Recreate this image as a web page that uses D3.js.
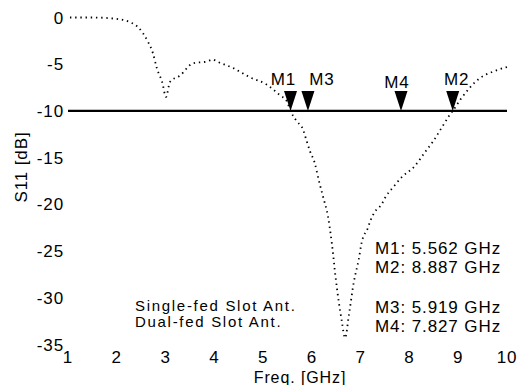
<!DOCTYPE html>
<html>
<head>
<meta charset="utf-8">
<script src="https://d3js.org/d3.v7.min.js"></script>
<style>
  body { margin: 0; background: #fff; }
  svg text { font-family: "Liberation Sans", Arial, sans-serif; font-size: 17px; letter-spacing: 0.9px; fill: #000; }
</style>
</head>
<body>
<script>
// S11 curve (GHz, dB)
var freq = [1.04, 1.5, 2.07, 2.27, 2.43, 2.54, 2.64, 2.74, 2.82, 2.93, 3.01,
            3.09, 3.3, 3.56, 3.85, 3.97, 4.05, 4.38, 4.73, 5.08, 5.34, 5.49, 5.562,
            5.69, 5.82, 5.88, 5.96, 6.06, 6.14, 6.23, 6.33, 6.41, 6.49, 6.61, 6.68,
            6.76, 6.86, 6.96, 7.02, 7.15, 7.21, 7.29, 7.43, 7.5, 7.66, 7.86, 8.11,
            8.32, 8.48, 8.66, 8.83, 8.887, 9.07, 9.24, 9.44, 9.71, 10.0];
var s11  = [0, 0, -0.2, -0.5, -1.0, -1.7, -2.6, -3.8, -5.4, -6.9, -8.5,
            -6.9, -6.2, -4.9, -4.7, -4.5, -4.7, -5.4, -6.4, -7.2, -8.3, -9.0, -10.0,
            -11.1, -12.0, -13.0, -14.3, -15.6, -17.4, -19.2, -21.3, -24.2, -28.0, -32.4, -34.3,
            -31.8, -28.3, -25.9, -24.1, -22.5, -21.6, -20.8, -20.0, -19.3, -18.2, -17.0, -15.9,
            -14.4, -13.3, -11.8, -10.4, -10.0, -8.6, -7.5, -6.5, -5.8, -5.3];

var markerNames = ["M1", "M3", "M4", "M2"];
var markerFreq  = [5.562, 5.919, 7.827, 8.887];
var noteLines   = ["M1: 5.562 GHz", "M2: 8.887 GHz", "M3: 5.919 GHz", "M4: 7.827 GHz"];
var legendNames = ["Single-fed Slot Ant.", "Dual-fed Slot Ant."];
var xTicks = [1, 2, 3, 4, 5, 6, 7, 8, 9, 10];
var yTicks = [0, -5, -10, -15, -20, -25, -30, -35];
var refLevel = -10;

var W = 528, H = 385;
var svg = d3.select("body").append("svg").attr("width", W).attr("height", H);

var x = d3.scaleLinear().domain([1, 10]).range([68, 507]);
var y = d3.scaleLinear().domain([0, -35]).range([17.5, 344.5]);

// tick labels (no axis lines in the original)
svg.selectAll(".yt").data(yTicks).enter().append("text")
  .attr("x", 64).attr("y", function(d){ return y(d) + 6; })
  .attr("text-anchor", "end")
  .text(function(d){ return d; });

svg.selectAll(".xt").data(xTicks).enter().append("text")
  .attr("x", function(d){ return x(d); }).attr("y", 363)
  .attr("text-anchor", "middle")
  .text(function(d){ return d; });

svg.append("text").attr("x", 300).attr("y", 383)
  .attr("text-anchor", "middle").style("font-size", "16px")
  .text("Freq. [GHz]");

svg.append("text")
  .attr("transform", "translate(27,167) rotate(-90)")
  .attr("text-anchor", "middle").text("S11 [dB]");

// -10 dB reference line
svg.append("line")
  .attr("x1", x(1)).attr("x2", x(10))
  .attr("y1", y(refLevel)).attr("y2", y(refLevel))
  .attr("stroke", "#000").attr("stroke-width", 2.2);

// dotted S11 curve
var pts = freq.map(function(f, i){ return [f, s11[i]]; });
var line = d3.line()
  .x(function(d){ return x(d[0]); })
  .y(function(d){ return y(d[1]); })
  .curve(d3.curveMonotoneX);

svg.append("path").datum(pts)
  .attr("d", line)
  .attr("fill", "none")
  .attr("stroke", "#000")
  .attr("stroke-width", 1.8)
  .attr("stroke-dasharray", "1.4,3.8");

// markers
var labelDx = { M1: -7, M3: 14, M4: -4, M2: 4 };
markerFreq.forEach(function(f, i){
  var cx = x(f), ty = y(refLevel);
  svg.append("path")
    .attr("d", "M" + (cx - 6.5) + "," + (ty - 20) + "L" + (cx + 6.5) + "," + (ty - 20) + "L" + cx + "," + ty + "Z")
    .attr("fill", "#000");
  svg.append("text")
    .attr("x", cx + labelDx[markerNames[i]])
    .attr("y", ty - (markerNames[i] === "M4" ? 23 : 26))
    .attr("text-anchor", "middle")
    .text(markerNames[i]);
});

// marker notes
var noteY = [254, 273, 313, 332];
noteLines.forEach(function(t, i){
  svg.append("text").attr("x", 375).attr("y", noteY[i]).text(t);
});

// legend text
legendNames.forEach(function(t, i){
  svg.append("text").attr("x", 135).attr("y", 311 + i * 16)
    .style("font-size", "15px").style("letter-spacing", "1.7px").text(t);
});
</script>
</body>
</html>
